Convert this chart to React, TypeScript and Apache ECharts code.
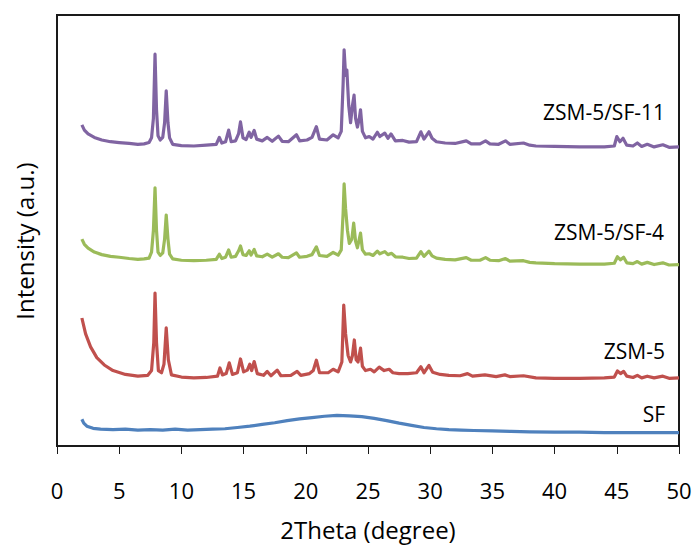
import React, { useEffect, useRef } from "react";
import * as echarts from "echarts";

const xTicks = [0, 5, 10, 15, 20, 25, 30, 35, 40, 45, 50];

const seriesNames = ["ZSM-5/SF-11", "ZSM-5/SF-4", "ZSM-5", "SF"];
const seriesColors = ["#8064A2", "#9BBB59", "#C0504D", "#4F81BD"];

// ZSM-5/SF-11 (purple), [2theta, intensity offset]
const sf11: number[][] = [
  [2.0, 74.5], [2.2, 73.3], [2.5, 72.4], [3.0, 71.6], [3.6, 71.0], [4.3, 70.6], [5.0, 70.4], [5.8, 70.2],
  [6.5, 70.0], [7.0, 70.1], [7.4, 70.4], [7.6, 71.5], [7.75, 76], [7.88, 90.9], [8.0, 78], [8.12, 72],
  [8.3, 71], [8.5, 71.6], [8.65, 75], [8.78, 82.4], [8.92, 75], [9.05, 71.5], [9.3, 70], [10, 69.7],
  [11, 69.6], [12, 69.8], [12.8, 70.0], [13.05, 71.6], [13.25, 70.3], [13.55, 70.6], [13.8, 73.3], [14.0, 70.6],
  [14.35, 70.8], [14.6, 72.5], [14.75, 75.2], [14.95, 71.5], [15.2, 71.1], [15.45, 72.8], [15.6, 71.6], [15.85, 73.2],
  [16.05, 71.2], [16.5, 70.8], [16.9, 71.6], [17.3, 70.7], [17.8, 71.9], [18.1, 70.7], [18.6, 70.6], [19.25, 72.2],
  [19.5, 70.8], [20.1, 71.0], [20.5, 71.6], [20.85, 74.1], [21.1, 71.2], [21.7, 71.0], [22.2, 72.2], [22.6, 71.5],
  [22.85, 73], [23.0, 84], [23.08, 91.9], [23.2, 86], [23.3, 87.2], [23.45, 79], [23.6, 75], [23.75, 79],
  [23.88, 81.4], [24.0, 76], [24.15, 74], [24.3, 76], [24.4, 78], [24.55, 73], [24.8, 71.5], [25.1, 71.8],
  [25.4, 71.2], [25.75, 72.8], [25.95, 71.8], [26.35, 72.6], [26.6, 71.4], [26.85, 72.4], [27.2, 70.8], [27.8, 70.9],
  [28.3, 70.5], [28.9, 70.6], [29.25, 72.9], [29.5, 71.2], [29.9, 72.9], [30.15, 71.4], [30.5, 70.6], [31.2, 70.3],
  [32.0, 70.2], [32.9, 70.8], [33.3, 70.1], [34.0, 70.1], [34.45, 70.8], [34.8, 70.1], [35.5, 70.0], [36.05, 70.8],
  [36.4, 70.0], [37.5, 70.3], [38.0, 69.8], [38.5, 69.6], [40, 69.5], [42, 69.4], [44, 69.4], [44.8, 69.6],
  [45.0, 71.8], [45.25, 70.6], [45.5, 71.4], [45.8, 69.8], [46.3, 69.6], [46.65, 70.3], [47.0, 69.5], [47.45, 70.0],
  [48.0, 69.4], [48.7, 69.9], [49.2, 69.3], [50, 69.4],
];

// ZSM-5/SF-4 (green)
const sf4: number[][] = [
  [2.0, 48.0], [2.2, 46.8], [2.5, 45.9], [3.0, 45.0], [3.6, 44.4], [4.3, 44.0], [5.0, 43.8], [5.8, 43.5],
  [6.5, 43.3], [7.0, 43.4], [7.4, 43.6], [7.6, 45], [7.75, 50], [7.88, 59.9], [8.0, 50], [8.12, 45],
  [8.3, 44.2], [8.5, 44.8], [8.65, 48], [8.78, 53.6], [8.92, 48], [9.05, 44.5], [9.3, 43.4], [10, 43.1],
  [11, 43.0], [12, 43.1], [12.8, 43.3], [13.05, 44.5], [13.25, 43.5], [13.55, 43.8], [13.8, 45.5], [14.0, 43.8],
  [14.35, 44.0], [14.6, 45.3], [14.75, 46.4], [14.95, 44.4], [15.2, 44.2], [15.45, 45.3], [15.6, 44.3], [15.85, 45.6],
  [16.05, 44.1], [16.5, 43.9], [16.9, 44.5], [17.3, 43.8], [17.8, 44.6], [18.1, 43.8], [18.6, 43.7], [19.25, 44.8],
  [19.5, 43.8], [20.1, 44.0], [20.5, 44.4], [20.85, 46.2], [21.1, 44.2], [21.7, 44.0], [22.2, 44.9], [22.6, 44.3],
  [22.85, 45.5], [23.0, 54], [23.08, 60.8], [23.2, 55], [23.35, 50], [23.5, 47], [23.7, 48], [23.85, 51.7],
  [24.0, 47.5], [24.15, 46], [24.3, 48], [24.4, 49.4], [24.55, 45.5], [24.8, 44.5], [25.1, 44.6], [25.4, 44.2],
  [25.75, 45.2], [25.95, 44.6], [26.35, 45.1], [26.6, 44.4], [26.9, 44.7], [27.2, 43.9], [27.8, 43.8], [28.3, 43.5],
  [28.9, 43.6], [29.25, 45.1], [29.5, 44.0], [29.9, 45.2], [30.15, 44.1], [30.5, 43.6], [31.2, 43.3], [32.0, 43.2],
  [32.9, 43.7], [33.3, 43.1], [34.0, 43.1], [34.45, 43.7], [34.8, 43.1], [35.5, 43.0], [36.05, 43.5], [36.4, 42.9],
  [37.5, 43.0], [38.0, 42.6], [38.5, 42.5], [40, 42.3], [42, 42.2], [44, 42.2], [44.8, 42.4], [45.05, 43.9],
  [45.3, 43.2], [45.55, 43.8], [45.8, 42.5], [46.3, 42.3], [46.65, 42.8], [47.0, 42.2], [47.45, 42.6], [48.0, 42.1],
  [48.7, 42.5], [49.2, 42.0], [50, 42.1],
];

// ZSM-5 (red)
const zsm5: number[][] = [
  [2.0, 29.7], [2.3, 26], [2.7, 23], [3.2, 20.5], [3.8, 18.8], [4.5, 17.5], [5.5, 16.6], [6.5, 16.2],
  [7.3, 16.4], [7.6, 17.5], [7.78, 24], [7.88, 35.5], [8.0, 24], [8.15, 17.5], [8.4, 17], [8.6, 19],
  [8.78, 27.4], [8.95, 20], [9.2, 16.5], [10, 16], [11, 15.8], [12, 15.9], [12.9, 16.2], [13.1, 18.1],
  [13.3, 16.5], [13.6, 16.8], [13.85, 19.3], [14.1, 16.6], [14.5, 17], [14.75, 20.2], [15.0, 17.2], [15.3, 17.6],
  [15.5, 19], [15.65, 17.5], [15.85, 19.6], [16.1, 16.8], [16.6, 16.4], [16.9, 17.3], [17.2, 16.3], [17.7, 17.6],
  [18.0, 16.3], [18.8, 16.4], [19.3, 17.3], [19.6, 16.4], [20.3, 16.8], [20.6, 17.5], [20.85, 19.9], [21.1, 17],
  [21.8, 17], [22.2, 17.8], [22.6, 17.2], [22.9, 19.5], [23.05, 32.7], [23.2, 26], [23.4, 21], [23.6, 19.5],
  [23.75, 21], [23.9, 24.6], [24.05, 20], [24.2, 19.5], [24.4, 22.7], [24.55, 18.5], [24.8, 17.5], [25.2, 17.8],
  [25.5, 17.2], [25.9, 18.3], [26.3, 17.5], [26.7, 17.8], [27.0, 17.0], [27.5, 16.8], [28.2, 16.8], [28.9, 17],
  [29.25, 18.4], [29.5, 17], [29.9, 18.7], [30.2, 17.1], [30.8, 16.6], [31.5, 16.4], [32.4, 16.3], [33.0, 16.8],
  [33.4, 16.2], [34.4, 16.5], [35.3, 16.1], [36.0, 16.5], [36.4, 16.1], [37.5, 16.3], [38.5, 15.8], [40, 15.7],
  [42, 15.7], [44, 15.8], [44.8, 16], [45.05, 17.4], [45.3, 16.8], [45.55, 17.3], [45.8, 16.2], [46.3, 15.9],
  [46.65, 16.4], [47.0, 15.8], [47.45, 16.2], [48.0, 15.8], [48.7, 16.2], [49.2, 15.7], [50, 15.8],
];

// SF (blue)
const sf: number[][] = [
  [2.0, 6.2], [2.15, 5.3], [2.4, 4.6], [2.9, 4.1], [3.5, 3.9], [4.5, 3.8], [5.5, 3.9], [6.5, 3.7],
  [7.5, 3.8], [8.5, 3.7], [9.5, 3.9], [10.5, 3.7], [11.5, 3.8], [12.5, 3.9], [13.5, 4.0], [14.5, 4.3],
  [15.5, 4.6], [16.5, 5.0], [17.5, 5.4], [18.5, 5.9], [19.5, 6.3], [20.5, 6.6], [21.5, 6.9], [22.5, 7.1],
  [23.5, 7.0], [24.5, 6.8], [25.5, 6.4], [26.5, 5.9], [27.5, 5.3], [28.5, 4.8], [29.5, 4.3], [30.5, 4.0],
  [31.5, 3.8], [32.5, 3.7], [33.5, 3.6], [35, 3.5], [36.5, 3.4], [38, 3.3], [40, 3.2], [42, 3.2],
  [44, 3.1], [46, 3.1], [48, 3.1], [50, 3.1],
];

const seriesData = [sf11, sf4, zsm5, sf];

const labelPos = [
  { right: 665, y: 112 },
  { right: 664, y: 232 },
  { right: 665, y: 351 },
  { right: 665, y: 414 },
];

const FONT = "'Open Sans', 'Noto Sans', sans-serif";

export default function App() {
  const ref = useRef<HTMLDivElement>(null);
  useEffect(() => {
    if (!ref.current) return;
    const chart = echarts.init(ref.current, undefined, { renderer: "svg" });
    chart.setOption({
      animation: false,
      backgroundColor: "#ffffff",
      grid: {
        left: 57,
        right: 14,
        top: 15,
        bottom: 102,
        show: true,
        borderColor: "#1a1a1a",
        borderWidth: 2,
        containLabel: false,
        outerBoundsMode: "none",
      },
      xAxis: {
        type: "value",
        min: 0,
        max: 50,
        interval: 5,
        name: "2Theta (degree)",
        nameLocation: "middle",
        nameGap: 71,
        nameTextStyle: { fontSize: 24, color: "#000", fontFamily: FONT },
        axisLine: { show: true, lineStyle: { color: "#1a1a1a", width: 2 } },
        axisTick: { show: true, length: 8, lineStyle: { color: "#1a1a1a", width: 1 } },
        axisLabel: {
          fontSize: 22,
          color: "#000",
          margin: 33,
          fontFamily: FONT,
          formatter: (v: number) => (xTicks.includes(v) ? String(v) : ""),
        },
        splitLine: { show: false },
      },
      yAxis: {
        type: "value",
        min: 0,
        max: 100,
        axisLine: { show: true, lineStyle: { color: "#1a1a1a", width: 2 } },
        axisTick: { show: false },
        axisLabel: { show: false },
        splitLine: { show: false },
      },
      series: seriesData.map((d, i) => ({
        name: seriesNames[i],
        type: "line",
        data: d,
        showSymbol: false,
        smooth: false,
        lineStyle: { color: seriesColors[i], width: 3.2, join: "round" },
        itemStyle: { color: seriesColors[i] },
        z: 2,
      })),
      graphic: [
        ...seriesNames.map((n, i) => ({
          type: "text",
          x: labelPos[i].right,
          y: labelPos[i].y,
          style: {
            text: n,
            fontSize: 21,
            fontFamily: FONT,
            fill: "#000",
            align: "right",
            verticalAlign: "middle",
          },
        })),
        {
          type: "text",
          x: 24,
          y: 241,
          rotation: Math.PI / 2,
          style: {
            text: "Intensity (a.u.)",
            fontSize: 24,
            fontFamily: FONT,
            fill: "#000",
            align: "center",
            verticalAlign: "middle",
          },
        },
      ],
    });
    return () => chart.dispose();
  }, []);
  return (
    <div
      ref={ref}
      style={{ position: "absolute", left: 0, top: 0, width: 693, height: 548 }}
    />
  );
}
